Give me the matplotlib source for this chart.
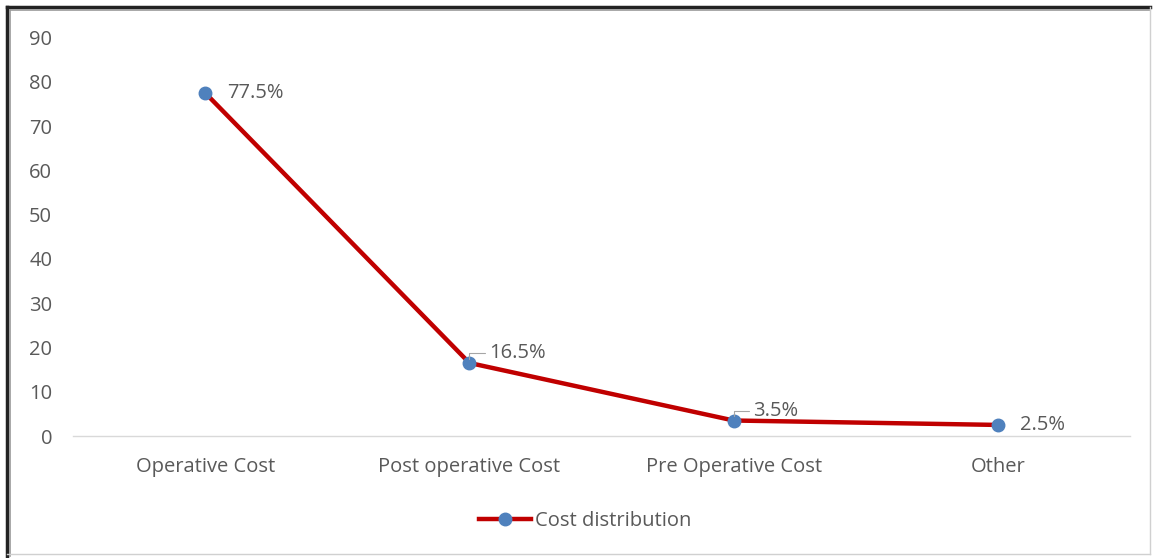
import matplotlib.pyplot as plt
from matplotlib.lines import Line2D

# ---------------------------------------------------------------------------
# Data
# ---------------------------------------------------------------------------
categories = ["Operative Cost", "Post operative Cost", "Pre Operative Cost", "Other"]
values = [77.5, 16.5, 3.5, 2.5]
labels = ["77.5%", "16.5%", "3.5%", "2.5%"]
y_ticks = [0, 10, 20, 30, 40, 50, 60, 70, 80, 90]
series_name = "Cost distribution"

LINE_COLOR = "#C00000"
MARKER_COLOR = "#4F81BD"
TEXT_COLOR = "#595959"
FS = 14.5

plt.rcParams["font.family"] = ["Open Sans", "DejaVu Sans"]

fig = plt.figure(figsize=(11.55, 5.58), dpi=100)
W, H = 1155, 558

# axes: x from 73 to 1130 px, y from 436 (0) to 37.5 (90)
ax = fig.add_axes([73 / W, (H - 436) / H, (1130 - 73) / W, (436 - 37.5) / H])

x = list(range(len(categories)))
ax.plot(x, values, color=LINE_COLOR, linewidth=3.2, solid_capstyle="round",
        marker="o", markersize=9, markerfacecolor=MARKER_COLOR,
        markeredgecolor=MARKER_COLOR, zorder=3)

ax.set_xlim(-0.5, len(categories) - 0.5)
ax.set_ylim(0, 90)
ax.set_yticks(y_ticks)
ax.set_xticks(x)
ax.set_xticklabels(categories)
ax.tick_params(axis="both", length=0, colors=TEXT_COLOR, labelsize=FS)
ax.tick_params(axis="x", pad=15)
ax.tick_params(axis="y", pad=15)
for side in ["top", "right", "left"]:
    ax.spines[side].set_visible(False)
ax.spines["bottom"].set_color("#d9d9d9")
ax.spines["bottom"].set_linewidth(1.0)

# data labels
ax.annotate(labels[0], (x[0], values[0]), xytext=(16, 0), textcoords="offset points",
            va="center", ha="left", color=TEXT_COLOR, fontsize=FS)
for i in (1, 2):
    ax.annotate(labels[i], (x[i], values[i]), xytext=(14, 7), textcoords="offset points",
                va="center", ha="left", color=TEXT_COLOR, fontsize=FS,
                arrowprops=dict(arrowstyle="-", color="#a6a6a6", lw=0.8,
                                shrinkA=1, shrinkB=3,
                                connectionstyle="angle,angleA=0,angleB=90,rad=0"))
ax.annotate(labels[3], (x[3], values[3]), xytext=(16, 0), textcoords="offset points",
            va="center", ha="left", color=TEXT_COLOR, fontsize=FS)

# legend
handle = Line2D([0], [0], color=LINE_COLOR, linewidth=3.2, marker="o", markersize=9,
                markerfacecolor=MARKER_COLOR, markeredgecolor=MARKER_COLOR)
fig.legend([handle], [series_name], loc="center", bbox_to_anchor=(585 / W, 1 - 521 / H),
           frameon=False, fontsize=FS, labelcolor=TEXT_COLOR, handlelength=2.6,
           handletextpad=0.2)

# outer frame: dark top/left, light bottom/right
fig.add_artist(Line2D([7 / W, 1150 / W], [1 - 7 / H, 1 - 7 / H], color="#222222", lw=2.5))
fig.add_artist(Line2D([7 / W, 7 / W], [1 - 7 / H, 1 - 556 / H], color="#222222", lw=2.5))
fig.add_artist(Line2D([10 / W, 1150 / W], [1 - 10 / H, 1 - 10 / H], color="#999999", lw=1.2))
fig.add_artist(Line2D([10 / W, 10 / W], [1 - 10 / H, 1 - 556 / H], color="#999999", lw=1.2))
fig.add_artist(Line2D([1150 / W, 1150 / W], [1 - 7 / H, 1 - 554 / H], color="#d0d0d0", lw=1.0))
fig.add_artist(Line2D([7 / W, 1150 / W], [1 - 554 / H, 1 - 554 / H], color="#d0d0d0", lw=1.0))

fig.savefig("out.png", dpi=100)
